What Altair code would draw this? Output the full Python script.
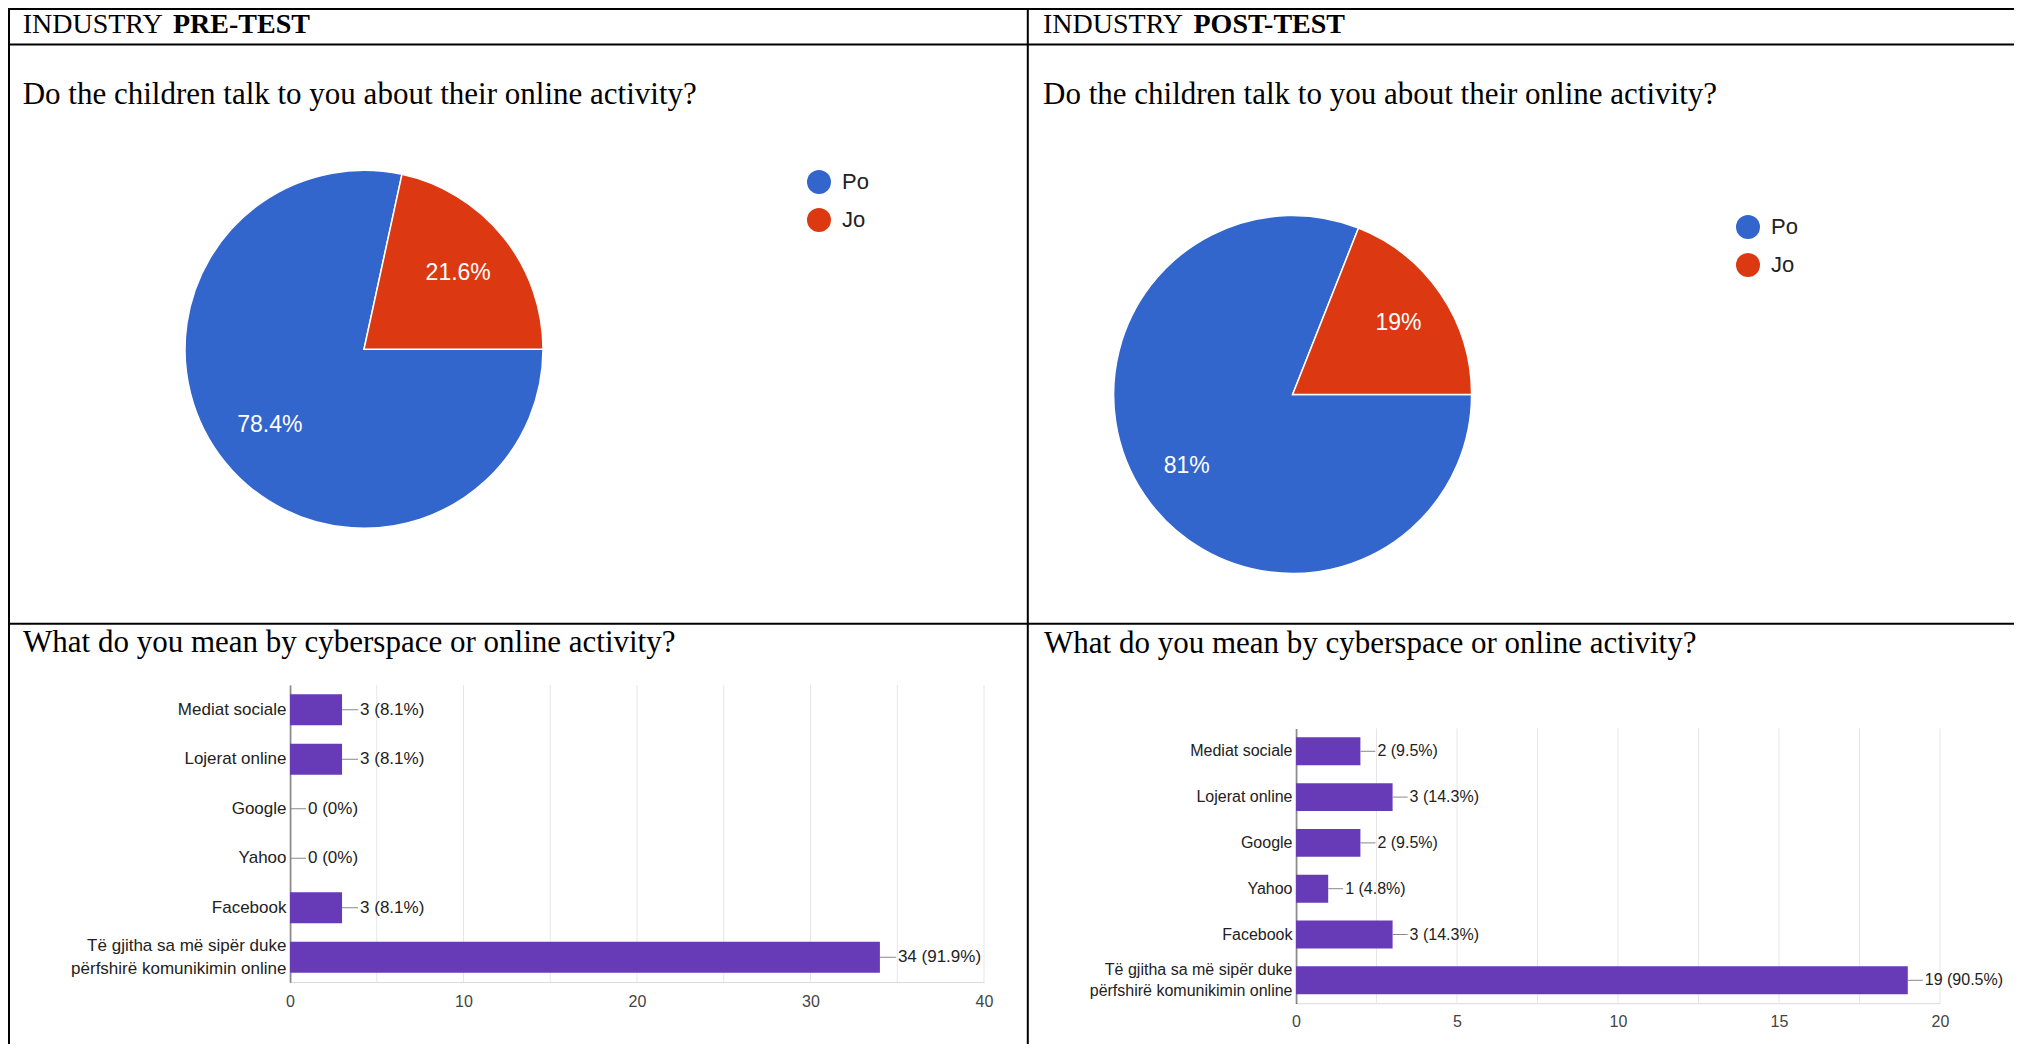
import math
import altair as alt
import pandas as pd

# ---------------- data ----------------
answers = ["Po", "Jo"]
pre_pie_pct = [78.4, 21.6]
post_pie_pct = [81, 19]

categories = ["Mediat sociale", "Lojerat online", "Google", "Yahoo", "Facebook",
              "Të gjitha sa më sipër duke\npërfshirë komunikimin online"]
pre_counts = [3, 3, 0, 0, 3, 34]
pre_pcts = ["8.1%", "8.1%", "0%", "0%", "8.1%", "91.9%"]
post_counts = [2, 3, 2, 1, 3, 19]
post_pcts = ["9.5%", "14.3%", "9.5%", "4.8%", "14.3%", "90.5%"]

pre_grid = [0, 5, 10, 15, 20, 25, 30, 35, 40]
pre_tick_labels = [0, 10, 20, 30, 40]
post_grid = [0, 2.5, 5, 7.5, 10, 12.5, 15, 17.5, 20]
post_tick_labels = [0, 5, 10, 15, 20]

header_word = "INDUSTRY"
header_pre = "PRE-TEST"
header_post = "POST-TEST"
question_pie = "Do the children talk to you about their online activity?"
question_bar = "What do you mean by cyberspace or online activity?"

# ---------------- style / layout ----------------
W, H = 2006, 1036
SERIF = "Liberation Serif, Times New Roman, serif"
SANS = "Arial, Liberation Sans, sans-serif"
PIE_COLORS = ["#3366cc", "#dc3912"]
PURPLE = "#673ab7"

one = pd.DataFrame({"k": [0]})


def rule_h(y, x1, x2):
    return alt.Chart(one).mark_rule(color="black", strokeWidth=2).encode(
        x=alt.value(x1), x2=alt.value(x2), y=alt.value(y))


def rule_v(x, y1, y2):
    return alt.Chart(one).mark_rule(color="black", strokeWidth=2).encode(
        x=alt.value(x), y=alt.value(y1), y2=alt.value(y2))


def label(text, x, y, size, bold=False):
    return alt.Chart(one).mark_text(
        align="left", baseline="alphabetic", font=SERIF, fontSize=size,
        fontWeight="bold" if bold else "normal", color="black"
    ).encode(x=alt.value(x), y=alt.value(y), text=alt.value(text))


def pie(values, cx, cy, r, label_r, lx, ly):
    df = pd.DataFrame({
        "answer": answers,
        "pct": values,
        "ord": list(range(len(answers))),
        "text": [f"{v:g}%" for v in values],
    })
    theta = alt.Theta("pct:Q", stack=True,
                      scale=alt.Scale(range=[math.pi / 2, math.pi / 2 + 2 * math.pi]))
    color = alt.Color(
        "answer:N",
        scale=alt.Scale(domain=answers, range=PIE_COLORS),
        legend=alt.Legend(orient="none", legendX=lx, legendY=ly, title=None,
                          direction="vertical", symbolType="circle", symbolSize=576,
                          symbolStrokeWidth=0, labelFont=SANS, labelFontSize=22,
                          labelColor="#222", labelOffset=11, rowPadding=14, padding=0),
    )
    base = alt.Chart(df).encode(theta=theta, order=alt.Order("ord:Q"),
                                x=alt.value(cx), y=alt.value(cy))
    arc = base.mark_arc(radius=r, stroke="white", strokeWidth=1.5).encode(color=color)
    txt = base.mark_text(radius=label_r, font=SANS, fontSize=23, color="white").encode(
        text="text:N")
    return alt.layer(arc, txt)


def bars(counts, pcts, xmax, grid, labeled, x_range, y_range, pad,
         cat_size, val_size, tick_size, line_h, lead, lab_pad):
    df = pd.DataFrame({
        "category": categories,
        "count": counts,
        "text": [f"{c} ({p})" for c, p in zip(counts, pcts)],
    })
    gdf = pd.DataFrame({"count": grid})

    x = alt.X(
        "count:Q",
        scale=alt.Scale(domain=[0, xmax], range=x_range, nice=False, zero=True),
        axis=alt.Axis(orient="bottom", offset=y_range[1] - H, values=grid,
                      labelExpr=f"indexof({labeled}, datum.value) >= 0 ? datum.label : ''",
                      grid=False, domainColor="#d9d9d9", domainWidth=1, ticks=False,
                      labelFlush=False, labelFont=SANS, labelFontSize=tick_size,
                      labelColor="#444", labelPadding=lab_pad, title=None),
    )
    y = alt.Y(
        "category:N",
        scale=alt.Scale(domain=categories, range=y_range, paddingInner=pad,
                        paddingOuter=pad / 2),
        axis=alt.Axis(orient="left", offset=-x_range[0], ticks=False,
                      domainColor="#333", domainWidth=1.5, labelFont=SANS,
                      labelFontSize=cat_size, labelColor="#222", labelPadding=4,
                      labelLimit=0, labelLineHeight=line_h,
                      labelOffset={"condition": {"test": "indexof(datum.value, '\\n') >= 0",
                                                 "value": -line_h / 2},
                                   "value": 0},
                      labelExpr="split(datum.value, '\\n')", title=None),
    )
    gridlines = alt.Chart(gdf).mark_rule(color="#e6e6e6", strokeWidth=1).encode(
        x=x, y=alt.value(y_range[0]), y2=alt.value(y_range[1]))
    base = alt.Chart(df).encode(x=x, y=y)
    bar = base.mark_bar(color=PURPLE)
    lead_line = base.mark_rule(color="#888", strokeWidth=1, x2Offset=lead).encode(
        x2="count:Q")
    txt = base.mark_text(align="left", baseline="middle", dx=lead + 2, font=SANS,
                         fontSize=val_size, color="#222").encode(text="text:N")
    return alt.layer(gridlines, bar, lead_line, txt)


layers = [
    # table frame
    rule_h(1, 0, W),
    rule_h(36.5, 0, W),
    rule_h(615.7, 0, W),
    rule_v(1, 0, H),
    rule_v(1019.8, 0, H),
    # headers
    label(header_word, 14.7, 25, 28),
    label(header_pre, 165, 25, 28, bold=True),
    label(header_word, 1035, 25, 28),
    label(header_post, 1185.5, 25, 28, bold=True),
    # questions
    label(question_pie, 14.7, 96, 31),
    label(question_pie, 1035, 96, 31),
    label(question_bar, 15, 644, 31),
    label(question_bar, 1036, 645, 31),
    # pies
    pie(pre_pie_pct, 356, 341.3, 179, 121, 799, 162),
    pie(post_pie_pct, 1284.6, 386.5, 179, 128, 1728, 207),
    # bars
    bars(pre_counts, pre_pcts, 40, pre_grid, pre_tick_labels,
         [282, 976], [677, 974], 0.373, 17, 17, 16, 23, 16, 11),
    bars(post_counts, post_pcts, 20, post_grid, post_tick_labels,
         [1288, 1932], [720.4, 995.2], 0.39, 16, 16, 16, 20.5, 15, 10),
]

chart = alt.layer(*layers).resolve_scale(
    x="independent", y="independent", theta="independent", color="independent"
).properties(
    width=W, height=H, padding=0, autosize=alt.AutoSizeParams(type="none")
).configure_view(strokeWidth=0).configure(background="white")

chart.save("out.html", embed_options={"renderer": "svg", "actions": False})
